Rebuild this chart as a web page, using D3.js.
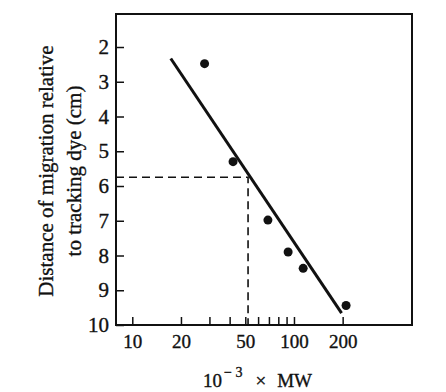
<!DOCTYPE html>
<html>
<head>
<meta charset="utf-8">
<script src="https://cdn.jsdelivr.net/npm/d3@7"></script>
<style>
  body { margin: 0; background: #fff; }
  text { font-family: "Liberation Serif", "DejaVu Serif", serif; }
</style>
</head>
<body>
<div id="chart"></div>
<script>
// Marker proteins: molecular weight (x 10^-3) and migration distance (cm).
const mwValues = [28, 42, 69, 92, 114, 210];
const distValues = [2.48, 5.3, 6.98, 7.9, 8.37, 9.44];

// Fitted standard line (end points).
const fitMW = [17.3, 197];
const fitDist = [2.33, 9.66];

// Unknown protein.
const unknownMW = 52;
const unknownDist = 5.75;

const xTicks = [10, 20, 30, 40, 50, 60, 70, 80, 90, 100, 200];
const xLabelled = [10, 20, 50, 100, 200];
const yTicks = [2, 3, 4, 5, 6, 7, 8, 9, 10];

const width = 446;
const height = 392;
const margin = { top: 14, right: 34, bottom: 67, left: 116 };

const svg = d3.select("#chart")
  .append("svg")
  .attr("width", width)
  .attr("height", height);

// Scales: log on x, reversed linear on y.
const x = d3.scaleLog()
  .domain([7.93, 537])
  .range([margin.left, width - margin.right]);

const y = d3.scaleLinear()
  .domain([1.05, 10])
  .range([margin.top, height - margin.bottom]);

// Frame.
svg.append("rect")
  .attr("x", margin.left)
  .attr("y", margin.top)
  .attr("width", width - margin.left - margin.right)
  .attr("height", height - margin.top - margin.bottom)
  .attr("fill", "none")
  .attr("stroke", "#111")
  .attr("stroke-width", 2);

// Heavier print look for text.
const inkText = (sel) =>
  sel.attr("fill", "#111").attr("stroke", "#111").attr("stroke-width", 0.35);

// X axis with inward ticks.
const xAxis = svg.append("g")
  .attr("transform", `translate(0,${height - margin.bottom})`)
  .call(d3.axisBottom(x)
    .tickValues(xTicks)
    .tickSize(-8)
    .tickPadding(10)
    .tickFormat((d) => (xLabelled.includes(d) ? d : "")));
xAxis.select(".domain").remove();
xAxis.selectAll("line").attr("stroke", "#111").attr("stroke-width", 1.5);
xAxis.selectAll("text")
  .attr("font-size", 19)
  .style("font-family", "Liberation Serif, serif")
  .call(inkText);

// Y axis with inward ticks.
const yAxis = svg.append("g")
  .attr("transform", `translate(${margin.left},0)`)
  .call(d3.axisLeft(y)
    .tickValues(yTicks)
    .tickSize(-8)
    .tickPadding(7));
yAxis.select(".domain").remove();
yAxis.selectAll("line").attr("stroke", "#111").attr("stroke-width", 1.5);
yAxis.selectAll("text")
  .attr("font-size", 21)
  .style("font-family", "Liberation Serif, serif")
  .call(inkText);

// Dashed read-off lines.
svg.append("path")
  .attr("d", d3.line()([
    [margin.left, y(unknownDist)],
    [x(unknownMW), y(unknownDist)],
    [x(unknownMW), y(10)],
  ]))
  .attr("fill", "none")
  .attr("stroke", "#111")
  .attr("stroke-width", 1.6)
  .attr("stroke-dasharray", "8,5");

// Standard line.
svg.append("line")
  .attr("x1", x(fitMW[0]))
  .attr("y1", y(fitDist[0]))
  .attr("x2", x(fitMW[1]))
  .attr("y2", y(fitDist[1]))
  .attr("stroke", "#111")
  .attr("stroke-width", 3);

// Data points.
svg.append("g")
  .selectAll("circle")
  .data(mwValues)
  .join("circle")
  .attr("cx", (d) => x(d))
  .attr("cy", (d, i) => y(distValues[i]))
  .attr("r", 4.5)
  .attr("fill", "#111");

// X axis title.
const xTitle = svg.append("text")
  .attr("x", 203)
  .attr("y", 387)
  .attr("font-size", 19)
  .call(inkText);
xTitle.append("tspan").text("10");
xTitle.append("tspan")
  .attr("dx", 2)
  .attr("dy", -10)
  .attr("font-size", 14)
  .text("\u2212 3");
xTitle.append("tspan")
  .attr("dx", 13)
  .attr("dy", 10)
  .text("\u00d7");
xTitle.append("tspan")
  .attr("dx", 11)
  .text("MW");

// Y axis title (two lines).
const yTitle = svg.append("text")
  .attr("transform", "translate(53,171) rotate(-90)")
  .attr("text-anchor", "middle")
  .attr("font-size", 21)
  .call(inkText);
yTitle.append("tspan").attr("x", 0).attr("y", 0).text("Distance of migration relative");
yTitle.append("tspan").attr("x", 0).attr("y", 28).text("to tracking dye (cm)");
</script>
</body>
</html>
